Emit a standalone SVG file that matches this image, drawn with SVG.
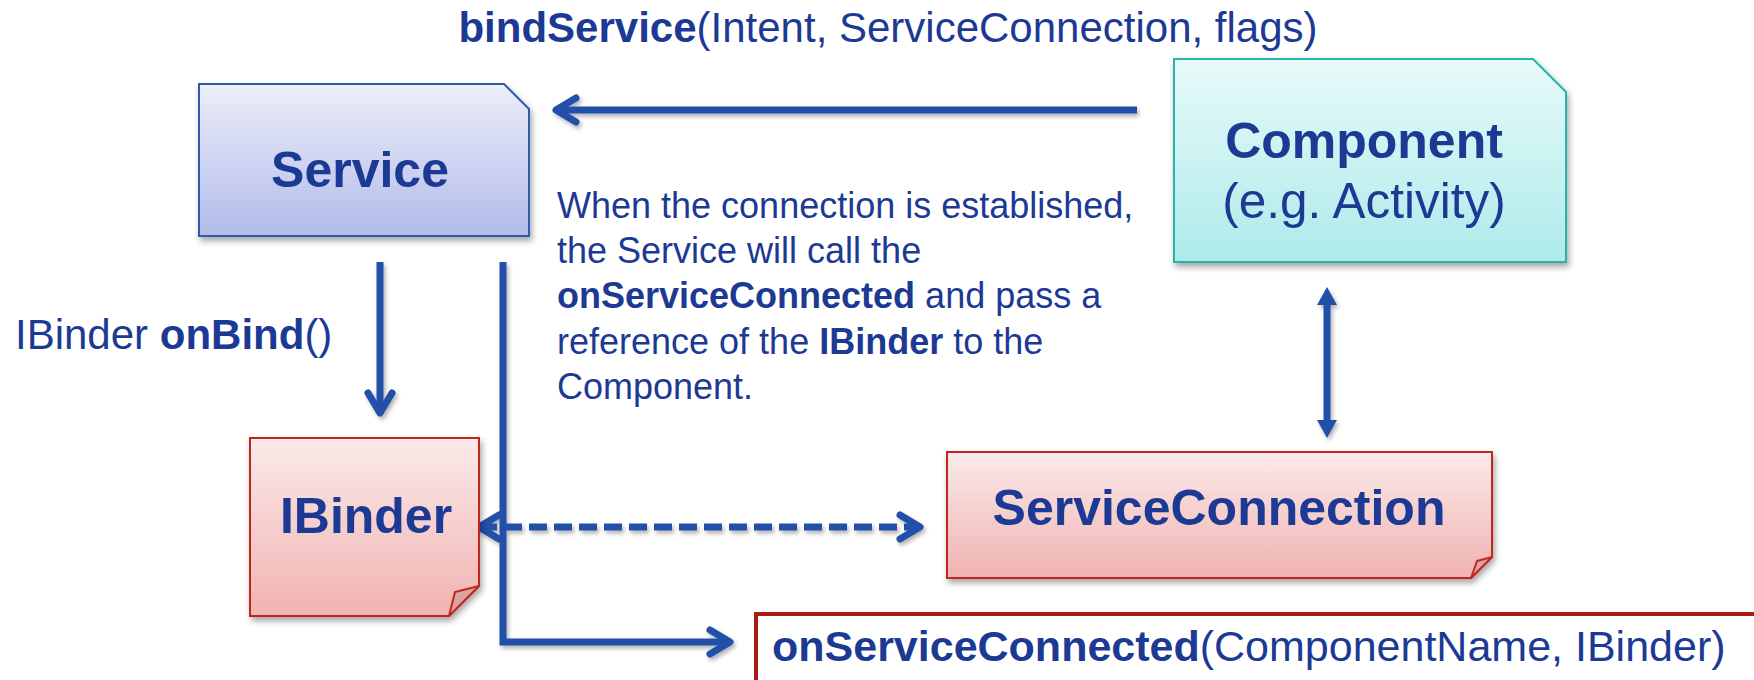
<svg xmlns="http://www.w3.org/2000/svg" width="1754" height="680" viewBox="0 0 1754 680">
<defs>
  <linearGradient id="gBlue" x1="0" y1="0" x2="0" y2="1">
    <stop offset="0" stop-color="#eceef9"/>
    <stop offset="1" stop-color="#b3bbea"/>
  </linearGradient>
  <linearGradient id="gCyan" x1="0" y1="0" x2="0" y2="1">
    <stop offset="0" stop-color="#e8fafa"/>
    <stop offset="1" stop-color="#aeeaea"/>
  </linearGradient>
  <linearGradient id="gRed" x1="0" y1="0" x2="0" y2="1">
    <stop offset="0" stop-color="#fbeaea"/>
    <stop offset="1" stop-color="#f0b3b1"/>
  </linearGradient>
  <filter id="shadow" x="-10%" y="-10%" width="130%" height="140%">
    <feDropShadow dx="2" dy="4" stdDeviation="3" flood-color="#000" flood-opacity="0.35"/>
  </filter>
  <filter id="lshadow" x="-10%" y="-10%" width="130%" height="140%">
    <feDropShadow dx="2" dy="3" stdDeviation="2" flood-color="#000" flood-opacity="0.3"/>
  </filter>
  <marker id="chev" markerUnits="userSpaceOnUse" markerWidth="40" markerHeight="40" refX="0" refY="0" orient="auto-start-reverse" overflow="visible">
    <path d="M-20,-12 L0,0 L-20,12" fill="none" stroke="#2150a8" stroke-width="7" stroke-linecap="round" stroke-linejoin="round"/>
  </marker>
  <marker id="tri" markerUnits="userSpaceOnUse" markerWidth="40" markerHeight="40" refX="0" refY="0" orient="auto-start-reverse" overflow="visible">
    <path d="M-4,-10 L14,0 L-4,10 Z" fill="#2150a8"/>
  </marker>
</defs>
<style>
  text { font-family: "Liberation Sans", Arial, Helvetica, sans-serif; fill: #1c3a94; }
  .b { font-weight: bold; }
  .conn { fill: none; stroke: #2150a8; stroke-width: 7; }
  .redbox { stroke: #c0281c; stroke-width: 2; }
  .fold { fill: #dba3a3; stroke: #c0281c; stroke-width: 2; stroke-linejoin: round; }
</style>

<g id="connectors" filter="url(#lshadow)">
  <line class="conn" x1="1137" y1="110" x2="556" y2="110" marker-end="url(#chev)"/>
  <line class="conn" x1="380" y1="262" x2="380" y2="413" marker-end="url(#chev)"/>
  <path class="conn" d="M503,262 V642 H730" stroke-linejoin="miter" marker-end="url(#chev)"/>
  <line class="conn" x1="479" y1="527" x2="920" y2="527" stroke-dasharray="18 7" marker-start="url(#chev)" marker-end="url(#chev)"/>
  <line class="conn" x1="1327" y1="301" x2="1327" y2="424" marker-start="url(#tri)" marker-end="url(#tri)"/>
</g>

<g id="service">
  <path d="M199,84 H504 L529,109 V236 H199 Z" fill="url(#gBlue)" stroke="#2e5bac" stroke-width="2" filter="url(#shadow)"/>
  <text x="360" y="187" font-size="50" text-anchor="middle" class="b">Service</text>
</g>

<g id="component">
  <path d="M1174,59 H1533 L1566,92 V262 H1174 Z" fill="url(#gCyan)" stroke="#2bb3ab" stroke-width="2" filter="url(#shadow)"/>
  <text x="1364" y="158" font-size="50" text-anchor="middle" class="b">Component</text>
  <text x="1364" y="218" font-size="49.5" text-anchor="middle">(e.g. Activity)</text>
</g>

<g id="ibinder">
  <path class="redbox" d="M250,438 H479 V586 L449,616 H250 Z" fill="url(#gRed)" filter="url(#shadow)"/>
  <path class="fold" d="M479,586 L455,592 L449,616 Z"/>
  <text x="366" y="533" font-size="50" text-anchor="middle" class="b">IBinder</text>
</g>

<g id="serviceconnection">
  <path class="redbox" d="M947,452 H1492 V557 L1471,578 H947 Z" fill="url(#gRed)" filter="url(#shadow)"/>
  <path class="fold" d="M1492,557 L1477,561 L1471,578 Z"/>
  <text x="1219" y="525" font-size="50" text-anchor="middle" class="b">ServiceConnection</text>
</g>

<g id="onserviceconnected">
  <rect x="756" y="614" width="1020" height="90" fill="#ffffff" stroke="#a81d12" stroke-width="4"/>
  <text x="772" y="661" font-size="43"><tspan class="b">onServiceConnected</tspan>(ComponentName, IBinder)</text>
</g>

<g id="labels">
  <text x="888" y="42" font-size="42" text-anchor="middle"><tspan class="b">bindService</tspan>(Intent, ServiceConnection, flags)</text>
  <text x="15" y="349" font-size="42">IBinder <tspan class="b">onBind</tspan>()</text>
  <text font-size="36">
    <tspan x="557" y="218">When the connection is established,</tspan>
    <tspan x="557" y="263">the Service will call the</tspan>
    <tspan x="557" y="308"><tspan class="b">onServiceConnected</tspan> and pass a</tspan>
    <tspan x="557" y="354">reference of the <tspan class="b">IBinder</tspan> to the</tspan>
    <tspan x="557" y="399">Component.</tspan>
  </text>
</g>
</svg>
